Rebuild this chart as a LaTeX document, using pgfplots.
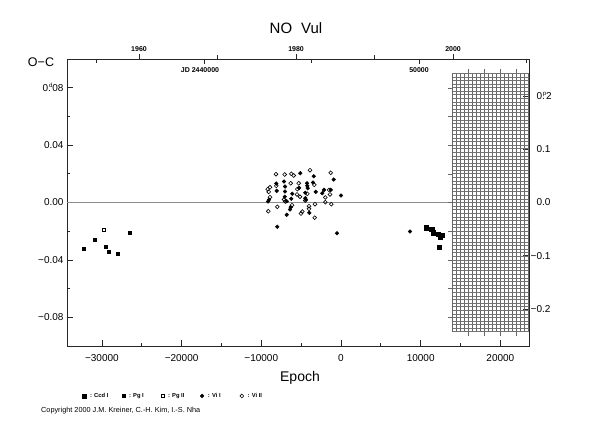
\documentclass[border=0pt]{standalone}
\usepackage{fontspec}
\setmainfont{Liberation Sans}
\usepackage{pgfplots}
\pgfplotsset{compat=1.18}

% O-C data of NO Vul (epoch, O-C in days)
\pgfplotstableread{
E O-C
10665 -0.0176
11380 -0.0188
11585 -0.0211
12210 -0.0223
12710 -0.0230
12420 -0.0241
12340 -0.0311
}\ccdone
\pgfplotstableread{
E O-C
-32246 -0.0322
-30866 -0.0260
-29530 -0.0311
-29110 -0.0341
-28020 -0.0360
-26474 -0.0211
}\pgone
\pgfplotstableread{
E O-C
-29820 -0.0188
}\pgtwo
\pgfplotstableread{
E O-C
-5107 0.0204
-3425 0.0183
-916 0.0160
-7152 0.0146
-4266 0.0134
-3513 0.0139
-8118 0.0132
-4228 0.0116
-7026 0.0111
-5270 0.0102
-4178 0.0100
-1292 0.0088
-2133 0.0088
-8068 0.0081
-7026 0.0077
-6110 0.0061
-4479 0.0068
-3174 0.0074
-2346 0.0065
0 0.0049
-7064 0.0040
-4479 0.0030
-6236 0.0026
-9034 0.0019
-9159 0.0007
-6813 0.0009
-4391 0.0019
-6311 -0.0033
-6399 -0.0049
-3977 -0.0072
-6813 -0.0086
-7992 -0.0169
-502 -0.0214
8657 -0.0202
}\vione
\pgfplotstableread{
E O-C
-3890 0.0225
-8156 0.0197
-7064 0.0195
-6236 0.0200
-5935 0.0188
-1292 0.0207
-6311 0.0134
-5307 0.0134
-3350 0.0123
-8118 0.0116
-8908 0.0106
-9197 0.0093
-5483 0.0093
-1506 0.0088
-9072 0.0074
-5521 0.0056
-4228 0.0061
-1380 0.0056
-5144 0.0040
-1970 0.0035
-8908 0.0037
-7152 0.0021
-6989 0.0007
-4479 0.0014
-1970 0.0002
-1217 -0.0012
-3262 -0.0012
-6148 -0.0019
-7992 -0.0030
-4015 -0.0026
-4015 -0.0044
-9122 -0.0061
-4856 -0.0063
-5019 -0.0077
-3300 -0.0106
}\vitwo

\begin{document}
\begin{tikzpicture}[x=1pt,y=1pt]
\useasboundingbox (0,0) rectangle (590,425);

% right-hand scale in phase units
\begin{axis}[
  at={(67pt,79pt)}, anchor=south west,
  scale only axis, width=462pt, height=287pt,
  xmin=-34380, xmax=23590, ymin=-0.26954, ymax=0.26954,
  axis x line=none, axis y line*=right,
  axis line style={black!85, line width=0.8pt, -},
  tick align=inside, major tick length=6pt,
  tick style={black!85, line width=0.7pt},
  ytick={-0.2,-0.1,0,0.1,0.2},
  yticklabels={\llap{−}0.2,\llap{−}0.1,0.0,0.1,{0\rlap{.}\kern0.8pt\raisebox{4pt}{\fontsize{6}{6}\selectfont p}2}},
  yticklabel style={font=\fontsize{10}{12}\selectfont},
  yticklabel shift=4pt,
]
\end{axis}

\begin{axis}[
  at={(67pt,79pt)}, anchor=south west,
  scale only axis, width=462pt, height=287pt,
  xmin=-34380, xmax=23590, ymin=-0.1, ymax=0.1,
  scaled x ticks=false, scaled y ticks=false,
  axis line style={black!85, line width=0.8pt},
  tick align=inside, major tick length=6pt, minor tick length=3pt,
  tick style={black!85, line width=0.7pt},
  xtick pos=lower, ytick pos=left,
  xtick={-30000,-20000,-10000,0,10000,20000},
  xticklabels={−30000,−20000,−10000,0,10000,20000},
  minor xtick={-25000,-15000,-5000,5000,15000},
  ytick={-0.08,-0.04,0,0.04,0.08},
  yticklabels={−0.08,−0.04,0.00,0.04,{0\rlap{.}\kern0.8pt\raisebox{4pt}{\fontsize{6}{6}\selectfont d}08}},
  minor ytick={-0.06,-0.02,0.02,0.06},
  ticklabel style={font=\fontsize{10}{12}\selectfont},
  xticklabel shift=5pt,
  clip=false,
  legend columns=5,
  legend style={at={(0.025,-0.174)}, anchor=west, draw=none, fill=none,
    font=\fontsize{5.8}{7}\selectfont\bfseries,
    /tikz/every even column/.append style={column sep=0pt}},
  legend image code/.code={\draw[#1] plot coordinates {(0pt,0pt)};},
]
% zero line
\draw[black!45, line width=0.8pt] (axis cs:-34380,0) -- (axis cs:23590,0);

% hatched region beyond the present
\pgfplotsinvokeforeach{14000,14500,15000,15500,16000,16500,17000,17500,18000,18500,
  19000,19500,20000,20500,21000,21500,22000,22500,23000,23500}{
  \draw[black!60, line width=0.35pt] (axis cs:#1,-0.09) -- (axis cs:#1,0.09);}
\pgfplotsinvokeforeach{-0.09,-0.0875,...,0.0901}{
  \draw[black!55, line width=0.3pt] (axis cs:14000,#1) -- (axis cs:23590,#1);}
\pgfplotsinvokeforeach{-0.08,-0.06,-0.04,-0.02,0,0.02,0.04,0.06,0.08}{
  \draw[black!60, line width=0.35pt] (axis cs:14000,#1) -- ++(-5pt,0pt);}
\pgfplotsinvokeforeach{16000,18000,20000,22000}{
  \draw[black!60, line width=0.35pt] (axis cs:#1,0.09) -- ++(0pt,4pt);
  \draw[black!60, line width=0.35pt] (axis cs:#1,-0.09) -- ++(0pt,-4pt);}

% calendar years along the top
\pgfplotsinvokeforeach{-25345,-5639,14067}{
  \draw[black!85, line width=0.7pt] (axis cs:#1,0.1) -- ++(0pt,5pt);}
\pgfplotsinvokeforeach{-15492,4214}{
  \draw[black!85, line width=0.7pt] (axis cs:#1,0.1) -- ++(0pt,4pt);}
\node[anchor=base, font=\fontsize{7}{8}\selectfont\bfseries] at ([yshift=7pt]axis cs:-25345,0.1) {1960};
\node[anchor=base, font=\fontsize{7}{8}\selectfont\bfseries] at ([yshift=7pt]axis cs:-5639,0.1) {1980};
\node[anchor=base, font=\fontsize{7}{8}\selectfont\bfseries] at ([yshift=7pt]axis cs:14067,0.1) {2000};

% Julian dates along the top
\pgfplotsinvokeforeach{-17190,9786}{
  \draw[black!85, line width=0.7pt] (axis cs:#1,0.1) -- ++(0pt,-5pt);}
\pgfplotsinvokeforeach{-30678,-3702,23274}{
  \draw[black!85, line width=0.7pt] (axis cs:#1,0.1) -- ++(0pt,-4pt);}
\node[anchor=base, font=\fontsize{7}{8}\selectfont\bfseries] at ([xshift=-4pt,yshift=-14pt]axis cs:-17190,0.1) {JD 2440000};
\node[anchor=base, font=\fontsize{7}{8}\selectfont\bfseries] at ([yshift=-14pt]axis cs:9786,0.1) {50000};

% observations
\addplot[only marks, mark=square*, mark size=2.2pt, black] table[x=E, y=O-C] {\ccdone};
\addlegendentry{\makebox[32pt][l]{\hspace{2pt}: Ccd I}}
\addplot[only marks, mark=square*, mark size=1.5pt, black] table[x=E, y=O-C] {\pgone};
\addlegendentry{\makebox[32pt][l]{\hspace{2pt}: Pg I}}
\addplot[only marks, mark=square, mark size=1.5pt, black, mark options={fill=white, line width=0.6pt}] table[x=E, y=O-C] {\pgtwo};
\addlegendentry{\makebox[32pt][l]{\hspace{2pt}: Pg II}}
\addplot[only marks, mark=*, mark size=1.9pt, black] table[x=E, y=O-C] {\vione};
\addlegendentry{\makebox[32pt][l]{\hspace{2pt}: Vi I}}
\addplot[only marks, mark=o, mark size=1.9pt, black, mark options={line width=0.6pt}] table[x=E, y=O-C] {\vitwo};
\addlegendentry{\makebox[32pt][l]{\hspace{2pt}: Vi II}}
\end{axis}

% titles and labels
\node[font=\fontsize{15}{18}\selectfont] at (296,397) {NO\hspace{9pt}Vul};
\node[font=\fontsize{12.5}{15}\selectfont] at (41,363) {O−C};
\node[font=\fontsize{14}{17}\selectfont] at (300,47) {Epoch};
\node[anchor=west, inner sep=0pt, font=\fontsize{7.3}{8}\selectfont] at (41,14) {Copyright 2000 J.M. Kreiner, C.-H. Kim, I.-S. Nha};
\end{tikzpicture}
\end{document}
